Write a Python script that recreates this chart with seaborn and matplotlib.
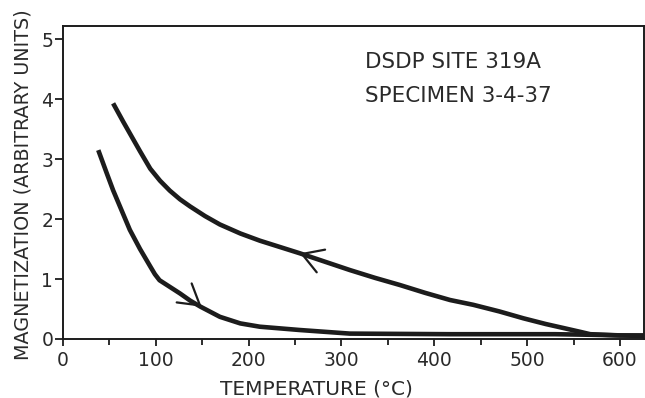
import matplotlib
matplotlib.use("Agg")
import matplotlib.pyplot as plt
import numpy as np
import pandas as pd
import seaborn as sns

# ---- data ----
cool_temp = [54, 65, 83, 94, 104.5, 115, 126, 137, 153, 169, 191, 212, 255, 282, 309, 336, 363,
             390, 417, 442, 470, 496, 520, 540, 557, 568, 600, 626]
cool_mag = [3.93, 3.62, 3.13, 2.84, 2.64, 2.475, 2.33, 2.21, 2.05, 1.91, 1.76, 1.64, 1.43, 1.29,
            1.15, 1.02, 0.90, 0.77, 0.65, 0.57, 0.46, 0.345, 0.25, 0.18, 0.12, 0.08, 0.06, 0.06]

heat_temp = [38, 47, 54, 63, 72, 83, 94, 99, 104, 115, 126, 137, 148, 169, 191, 212, 255, 309, 417, 530, 570, 626]
heat_mag = [3.15, 2.77, 2.48, 2.15, 1.82, 1.50, 1.21, 1.08, 0.98, 0.87, 0.76, 0.64, 0.54, 0.37, 0.26, 0.205,
            0.15, 0.09, 0.08, 0.08, 0.07, 0.05]

x_ticks = [0, 100, 200, 300, 400, 500, 600]
x_minor = [50, 150, 250, 350, 450, 550]
y_ticks = [0, 1, 2, 3, 4, 5]

site_label = "DSDP SITE 319A"
specimen_label = "SPECIMEN 3-4-37"
x_label = "TEMPERATURE (°C)"
y_label = "MAGNETIZATION (ARBITRARY UNITS)"

# arrow annotations: (apex x, apex y, direction dx_px, dy_px)
heat_arrow = (149.4, 0.538, 14.2, -11.2)
cool_arrow = (255.3, 1.43, -17.2, 6.35)

# ---- style ----
sns.set_theme(style="ticks")
plt.rcParams["font.family"] = ["DejaVu Sans"]
ink = "#1c1c1c"
text_ink = "#2a2a2a"

fig = plt.figure(figsize=(6.45, 3.98), dpi=100)
ax = fig.add_axes([63 / 645, 1 - 339 / 398, (644 - 63) / 645, (339 - 26) / 398])

cool_df = pd.DataFrame({"T": cool_temp, "M": cool_mag})
heat_df = pd.DataFrame({"T": heat_temp, "M": heat_mag})

line_kw = dict(color=ink, linewidth=3.3, sort=False, solid_joinstyle="round", solid_capstyle="butt")
sns.lineplot(data=cool_df, x="T", y="M", ax=ax, **line_kw)
sns.lineplot(data=heat_df, x="T", y="M", ax=ax, **line_kw)

ax.set_xlim(0, 625.9)
ax.set_ylim(0, 5.22)

# arrowheads
xpx = 581 / 625.9
ypx = 313 / 5.22
for (ax_x, ax_y, dxp, dyp) in (heat_arrow, cool_arrow):
    n = np.hypot(dxp, dyp)
    tail = (ax_x - dxp / n * 0.8 / xpx, ax_y - dyp / n * 0.8 / ypx)
    ax.annotate("", xy=(ax_x, ax_y), xytext=tail,
                arrowprops=dict(arrowstyle="->,head_length=1.45,head_width=0.87",
                                color=ink, lw=1.6, mutation_scale=10,
                                shrinkA=0, shrinkB=0))

ax.text(325.3, 4.62, site_label, fontsize=15.5, color=text_ink, va="center", ha="left")
ax.text(325.3, 4.05, specimen_label, fontsize=15.5, color=text_ink, va="center", ha="left")

ax.set_xticks(x_ticks)
ax.set_xticks(x_minor, minor=True)
ax.set_yticks(y_ticks)
ax.tick_params(axis="x", which="major", direction="out", length=5, width=1.3,
               colors=ink, labelsize=13.5, pad=3.5, labelcolor=text_ink)
ax.tick_params(axis="x", which="minor", direction="out", length=4, width=1.3, colors=ink)
ax.tick_params(axis="y", which="major", direction="out", length=6, width=1.3,
               colors=ink, labelsize=13.5, pad=1, labelcolor=text_ink)

for s in ax.spines.values():
    s.set_visible(True)
    s.set_linewidth(1.4)
    s.set_color(ink)

ax.set_xlabel(x_label, fontsize=14.5, color=text_ink)
ax.set_ylabel(y_label, fontsize=13.8, color=text_ink)
ax.xaxis.set_label_coords(0.436, -0.16)
ax.yaxis.set_label_coords(-0.068, 0.492)
ax.xaxis.label.set_va("center")
ax.yaxis.label.set_va("center")

fig.savefig("out.png", dpi=100)
